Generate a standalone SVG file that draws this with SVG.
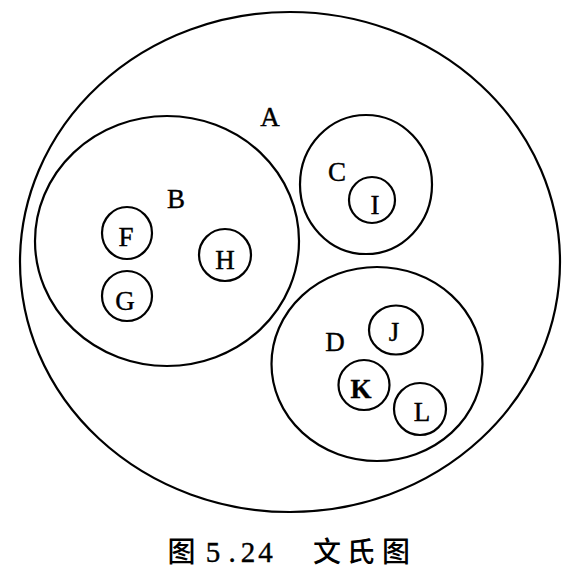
<svg xmlns="http://www.w3.org/2000/svg" width="578" height="582" viewBox="0 0 578 582">
<style>
.c{fill:none;stroke:#000;stroke-width:2.2}
.l{font-family:"Liberation Serif","Times New Roman",serif;font-size:27px;fill:#000;stroke:#000;stroke-width:0.4;text-anchor:middle}
.cap{font-family:"Liberation Serif","Times New Roman",serif;font-size:29px;fill:#000;stroke:#000;stroke-width:0.4;text-anchor:middle}
.cjk{font-family:"Noto Sans CJK SC",sans-serif;font-size:28px;font-weight:500;fill:#000;text-anchor:middle}
</style>
<rect width="578" height="582" fill="#fff"/>
<g id="A"><ellipse class="c" cx="290" cy="262" rx="270" ry="250"/><text class="l" x="270" y="126">A</text></g>
<g id="B"><ellipse class="c" cx="167" cy="241" rx="132" ry="125"/><text class="l" x="176" y="208">B</text></g>
<g id="F"><ellipse class="c" cx="127" cy="233" rx="25" ry="26"/><text class="l" x="126" y="246">F</text></g>
<g id="G"><ellipse class="c" cx="127" cy="296" rx="25" ry="25"/><text class="l" x="125" y="310">G</text></g>
<g id="H"><ellipse class="c" cx="225" cy="255" rx="26" ry="26"/><text class="l" x="225" y="269">H</text></g>
<g id="C"><ellipse class="c" cx="366" cy="184.5" rx="66" ry="69.5"/><text class="l" x="337" y="181">C</text></g>
<g id="I"><ellipse class="c" cx="372" cy="200" rx="23" ry="23"/><text class="l" x="375" y="214">I</text></g>
<g id="D"><ellipse class="c" cx="377" cy="364" rx="105.5" ry="97"/><text class="l" x="335" y="351">D</text></g>
<g id="J"><ellipse class="c" cx="396" cy="330" rx="27" ry="24.5"/><text class="l" x="394" y="341">J</text></g>
<g id="K"><ellipse class="c" cx="364" cy="385" rx="25.5" ry="25"/><text class="l" x="361" y="398" font-weight="bold">K</text></g>
<g id="L"><ellipse class="c" cx="420" cy="409" rx="26" ry="26"/><text class="l" x="422" y="421">L</text></g>
<g id="connectors"></g>
<g id="caption">
<text class="cjk" x="181.5" y="562">图</text>
<text class="cap" x="213 232 248 265.5" y="562">5.24</text>
<text class="cjk" x="327 360.5 396" y="562">文氏图</text>
</g>
</svg>
